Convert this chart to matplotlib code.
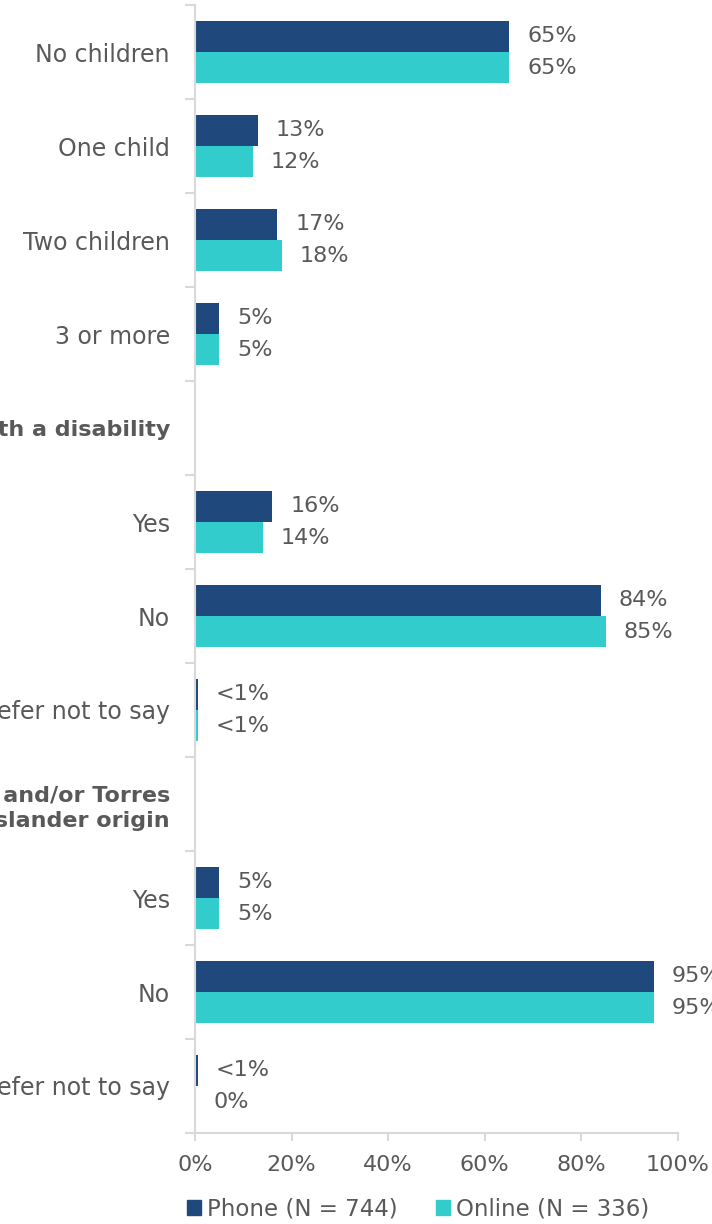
import matplotlib
matplotlib.use("Agg")
import matplotlib.pyplot as plt
from matplotlib.patches import Patch
import numpy as np

# Row labels (top to bottom); section headers are flagged separately
categories = ["No children", "One child", "Two children", "3 or more",
              "Person with a disability",
              "Yes", "No", "Prefer not to say",
              "Of Aboriginal and/or Torres\nStrait Islander origin",
              "Yes", "No", "Prefer not to say"]
is_header = [False, False, False, False, True, False, False, False, True, False, False, False]

# Percentages (None for header rows)
phone = [65, 13, 17, 5, None, 16, 84, 0.6, None, 5, 95, 0.6]
online = [65, 12, 18, 5, None, 14, 85, 0.6, None, 5, 95, 0]
phone_labels = ["65%", "13%", "17%", "5%", "", "16%", "84%", "<1%", "", "5%", "95%", "<1%"]
online_labels = ["65%", "12%", "18%", "5%", "", "14%", "85%", "<1%", "", "5%", "95%", "0%"]

series_names = ["Phone (N = 744)", "Online (N = 336)"]
xticks = [0, 20, 40, 60, 80, 100]
xtick_labels = ["0%", "20%", "40%", "60%", "80%", "100%"]

PHONE_C = "#1F497D"
ONLINE_C = "#33CCCC"
TEXT_C = "#595959"
AXIS_C = "#D9D9D9"
FONT = "DejaVu Sans"
FS_CAT = 17
FS_VAL = 16

plt.rcParams["font.family"] = [FONT]

fig = plt.figure(figsize=(7.12, 12.24), dpi=100)
ax = fig.add_axes([195 / 712, 1 - 1133 / 1224, (678 - 195) / 712, (1133 - 5) / 1224])

y = np.arange(len(categories))
h = 0.33
for i in range(len(categories)):
    if is_header[i]:
        continue
    ax.barh(y[i] - h / 2, phone[i], height=h, color=PHONE_C)
    ax.barh(y[i] + h / 2, online[i], height=h, color=ONLINE_C)
    ax.annotate(phone_labels[i], (phone[i], y[i] - h / 2), xytext=(13, 0),
                textcoords="offset points", va="center", ha="left",
                fontsize=FS_VAL, color=TEXT_C)
    ax.annotate(online_labels[i], (online[i], y[i] + h / 2), xytext=(13, 0),
                textcoords="offset points", va="center", ha="left",
                fontsize=FS_VAL, color=TEXT_C)

ax.set_xlim(0, 100)
ax.set_ylim(len(categories) - 0.5, -0.5)

ax.set_yticks(y)
ax.set_yticklabels(categories, fontsize=FS_CAT, color=TEXT_C)
for lbl, hdr in zip(ax.get_yticklabels(), is_header):
    if hdr:
        lbl.set_fontweight("bold")
        lbl.set_fontsize(FS_CAT - 1)
        lbl.set_linespacing(1.3)
ax.tick_params(axis="y", which="major", length=0, pad=18)
ax.set_yticks(np.arange(-0.5, len(categories)), minor=True)
ax.tick_params(axis="y", which="minor", length=7, color=AXIS_C, width=1.5)

ax.set_xticks(xticks)
ax.set_xticklabels(xtick_labels, fontsize=FS_VAL, color=TEXT_C)
ax.tick_params(axis="x", length=6, color=AXIS_C, width=1.5, pad=10)

for s in ["top", "right"]:
    ax.spines[s].set_visible(False)
for s in ["left", "bottom"]:
    ax.spines[s].set_color(AXIS_C)
    ax.spines[s].set_linewidth(1.5)

handles = [Patch(color=PHONE_C), Patch(color=ONLINE_C)]
fig.legend(handles, series_names, loc="center", bbox_to_anchor=(418 / 712, 1 - 1209 / 1224),
           ncol=2, frameon=False, fontsize=16.5, labelcolor=TEXT_C,
           handlelength=0.6, handleheight=0.6, handletextpad=0.26, columnspacing=1.7)

fig.savefig("out.png", dpi=100)
